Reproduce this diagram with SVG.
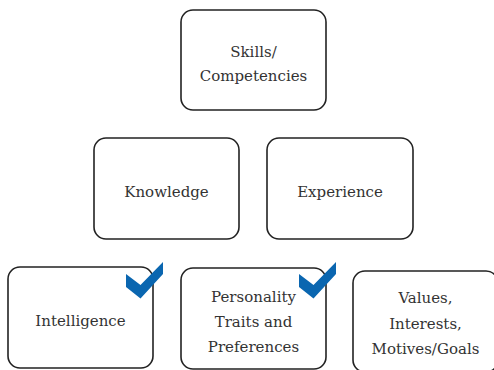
<svg xmlns="http://www.w3.org/2000/svg" width="494" height="370" viewBox="0 0 494 370">
  <style>
    .box { fill: #ffffff; stroke: #222222; stroke-width: 1.6; }
    .label { font-family: 'DejaVu Serif', 'Liberation Serif', serif; font-size: 15px; fill: #333333; text-anchor: middle; }
    .check { fill: #0a66b0; }
  </style>
  <defs>
    <!-- blue tick mark, drawn at the top-right corner of a box -->
    <polygon id="tick" class="check" points="126,274 140.5,285 163,262 163,274 140.5,298.5 126,287"/>
  </defs>
  <rect width="494" height="370" fill="#ffffff"/>

  <g id="connectors"></g>

  <g id="skills">
    <rect class="box" x="181" y="10" width="145" height="100" rx="12"/>
    <text class="label" x="253.5" y="57">Skills/</text>
    <text class="label" x="253.5" y="81">Competencies</text>
  </g>

  <g id="knowledge">
    <rect class="box" x="94" y="138" width="145" height="101" rx="12"/>
    <text class="label" x="166.5" y="197">Knowledge</text>
  </g>

  <g id="experience">
    <rect class="box" x="267" y="138" width="146" height="101" rx="12"/>
    <text class="label" x="340" y="197">Experience</text>
  </g>

  <g id="intelligence">
    <rect class="box" x="8" y="267" width="145" height="101" rx="12"/>
    <text class="label" x="80.5" y="326">Intelligence</text>
    <use href="#tick"/>
  </g>

  <g id="personality">
    <rect class="box" x="181" y="268" width="145" height="101" rx="12"/>
    <text class="label" x="253.5" y="301.5">Personality</text>
    <text class="label" x="253.5" y="326.5">Traits and</text>
    <text class="label" x="253.5" y="351.5">Preferences</text>
    <use href="#tick" transform="translate(173,0)"/>
  </g>

  <g id="values">
    <rect class="box" x="353" y="271" width="145" height="101" rx="12"/>
    <text class="label" x="425.5" y="303">Values,</text>
    <text class="label" x="425.5" y="329">Interests,</text>
    <text class="label" x="425.5" y="354">Motives/Goals</text>
  </g>
</svg>
